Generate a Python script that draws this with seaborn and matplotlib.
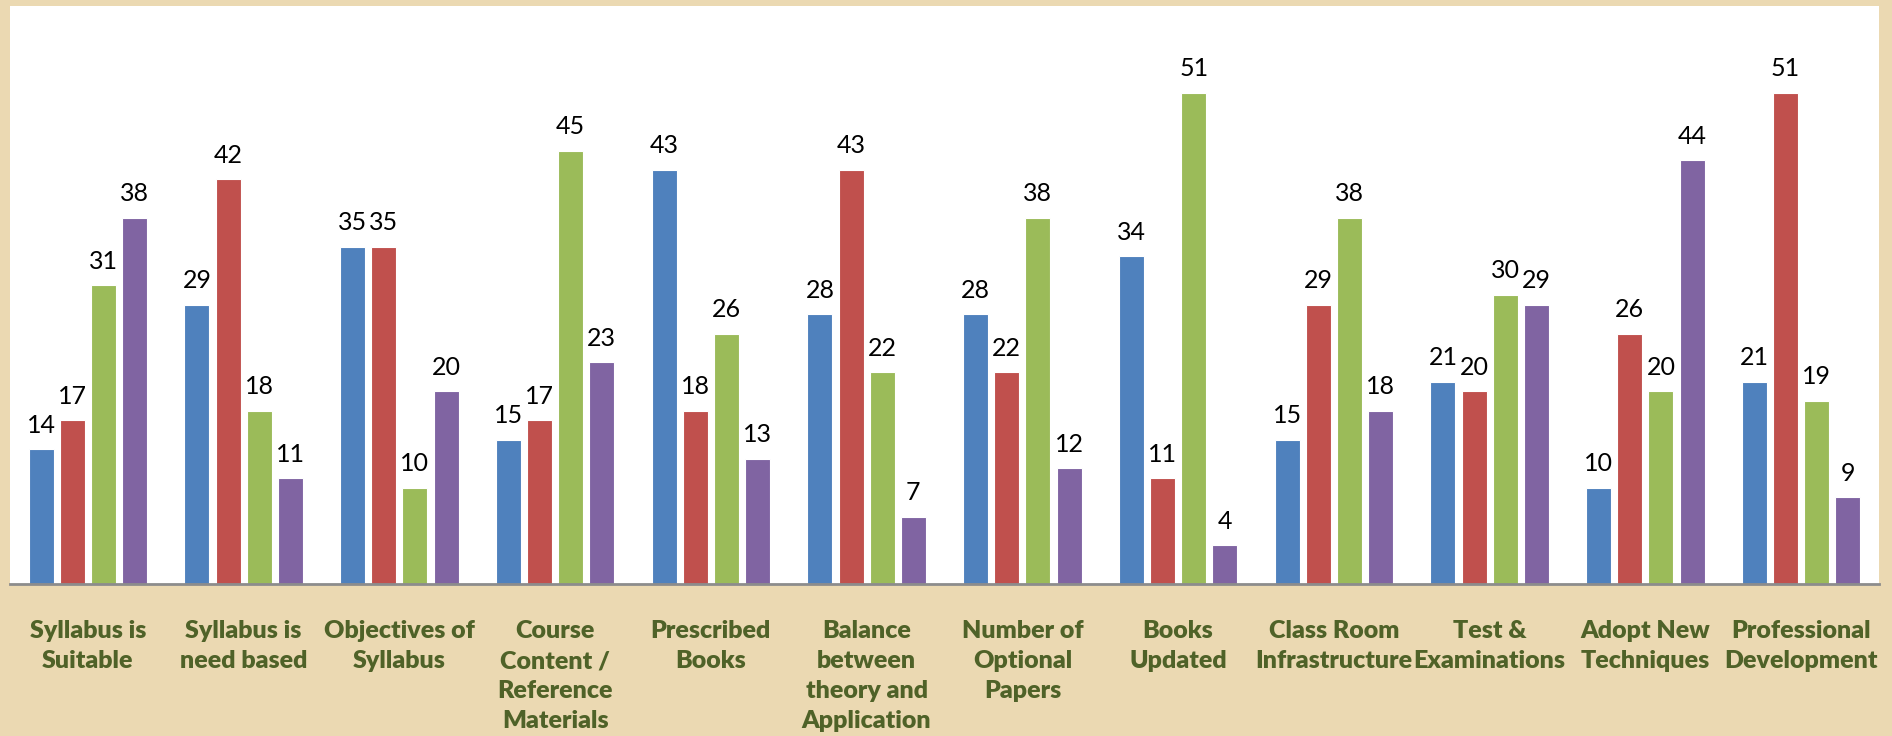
import pandas as pd
import matplotlib.pyplot as plt
import seaborn as sns

# Categories (x axis) and the four unnamed series
categories = ['Syllabus is Suitable', 'Syllabus is need based', 'Objectives of Syllabus',
              'Course Content / Reference Materials', 'Prescribed Books',
              'Balance between theory and Application', 'Number of Optional Papers',
              'Books Updated', 'Class Room Infrastructure', 'Test & Examinations',
              'Adopt New Techniques', 'Professional Development']
tick_labels = ['Syllabus is\nSuitable', 'Syllabus is\nneed based', 'Objectives of\nSyllabus',
               'Course\nContent /\nReference\nMaterials', 'Prescribed\nBooks',
               'Balance\nbetween\ntheory and\nApplication', 'Number of\nOptional\nPapers',
               'Books\nUpdated', 'Class Room\nInfrastructure', 'Test &\nExaminations',
               'Adopt New\nTechniques', 'Professional\nDevelopment']
series_1 = [14, 29, 35, 15, 43, 28, 28, 34, 15, 21, 10, 21]
series_2 = [17, 42, 35, 17, 18, 43, 22, 11, 29, 20, 26, 51]
series_3 = [31, 18, 10, 45, 26, 22, 38, 51, 38, 30, 20, 19]
series_4 = [38, 11, 20, 23, 13, 7, 12, 4, 18, 29, 44, 9]
series_names = ['Series 1', 'Series 2', 'Series 3', 'Series 4']
colors = ['#4F81BD', '#C0504D', '#9BBB59', '#8064A2']

rows = []
for name, vals in zip(series_names, [series_1, series_2, series_3, series_4]):
    for cat, v in zip(categories, vals):
        rows.append({'category': cat, 'series': name, 'value': v})
df = pd.DataFrame(rows)

sns.set_style('white')
plt.rcParams['font.family'] = ['Lato', 'DejaVu Sans']

fig = plt.figure(figsize=(18.92, 7.36), dpi=100)
fig.patch.set_facecolor('#EBD9B2')
ax = fig.add_axes([10 / 1892, (736 - 584) / 736, 1869 / 1892, 578 / 736])
ax.set_facecolor('white')

sns.barplot(data=df, x='category', y='value', hue='series', order=categories,
            hue_order=series_names, palette=colors, saturation=1, width=0.8, gap=0.2,
            edgecolor='white', linewidth=0.8, legend=False, ax=ax)

for c in ax.containers:
    ax.bar_label(c, fmt='%d', padding=9, fontsize=18, color='black')

ax.set_ylim(0, 60)
ax.set_xlim(-0.5, len(categories) - 0.5)
ax.set_yticks([])
ax.set_xticks(range(len(categories)))
ax.set_xticklabels(tick_labels, fontsize=18, fontweight='heavy', color='#4F6228',
                   linespacing=1.45)
ax.tick_params(axis='x', length=0, pad=26)
ax.set_xlabel('')
ax.set_ylabel('')
for s in ['top', 'left', 'right']:
    ax.spines[s].set_visible(False)
ax.spines['bottom'].set_color('#8C8C8C')
ax.spines['bottom'].set_linewidth(2)

plt.savefig('out.png', dpi=100, facecolor=fig.get_facecolor())
